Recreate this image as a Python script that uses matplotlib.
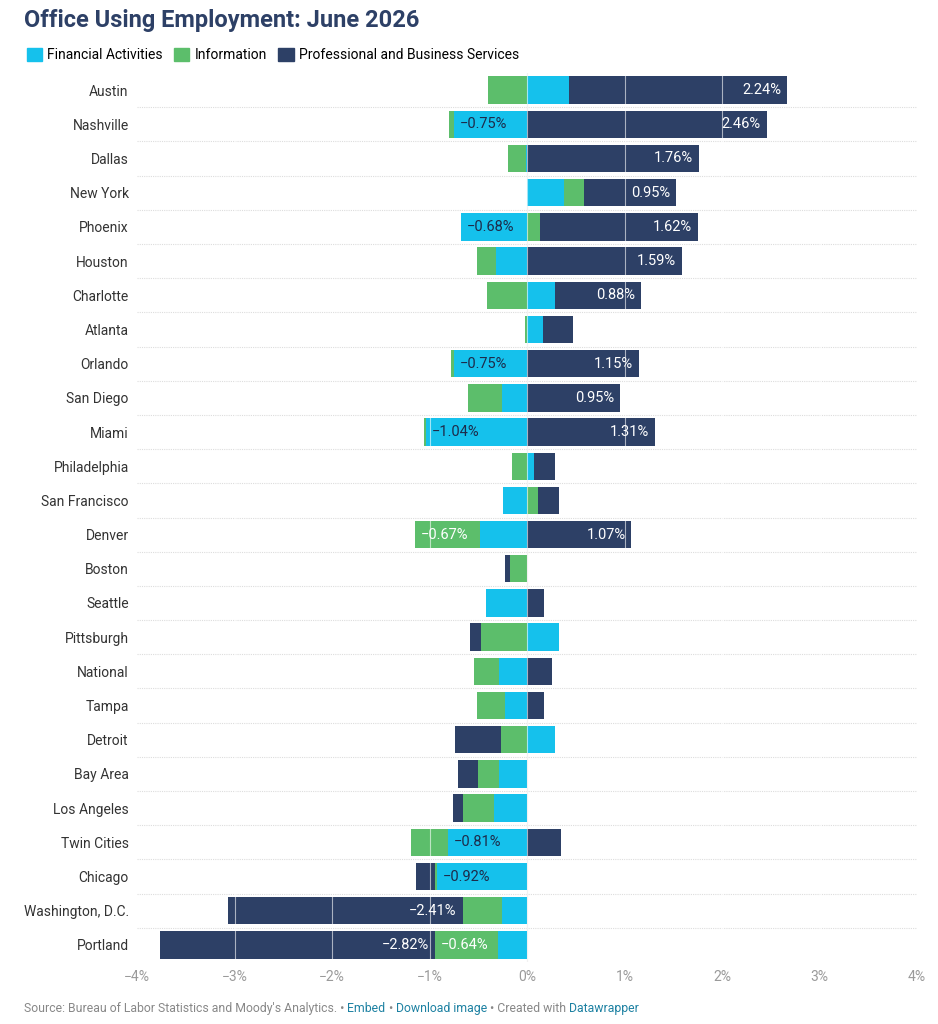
import matplotlib.pyplot as plt
import numpy as np

plt.rcParams['font.family'] = ['Roboto', 'DejaVu Sans']

cities = ["Austin","Nashville","Dallas","New York","Phoenix","Houston","Charlotte","Atlanta",
          "Orlando","San Diego","Miami","Philadelphia","San Francisco","Denver","Boston","Seattle",
          "Pittsburgh","National","Tampa","Detroit","Bay Area","Los Angeles","Twin Cities","Chicago",
          "Washington, D.C.","Portland"]
fin = [0.43,-0.75,-0.01,0.38,-0.68,-0.32,0.29,0.16,-0.75,-0.26,-1.04,0.07,-0.25,-0.48,0.0,-0.42,
       0.33,-0.29,-0.23,0.29,-0.29,-0.34,-0.81,-0.92,-0.26,-0.30]
info = [-0.40,-0.05,-0.19,0.20,0.13,-0.19,-0.41,-0.02,-0.03,-0.35,-0.02,-0.15,0.11,-0.67,-0.17,0.0,
        -0.47,-0.25,-0.28,-0.27,-0.21,-0.32,-0.38,-0.02,-0.40,-0.64]
pbs = [2.24,2.46,1.76,0.95,1.62,1.59,0.88,0.31,1.15,0.95,1.31,0.22,0.22,1.07,-0.06,0.17,
       -0.11,0.26,0.17,-0.47,-0.21,-0.10,0.35,-0.20,-2.41,-2.82]
series = [("Financial Activities", fin, "#15c1ec", "#1d2b4a"),
          ("Information", info, "#5cbe6b", "white"),
          ("Professional and Business Services", pbs, "#2d4066", "white")]

fig = plt.figure(figsize=(9.38, 10.24), dpi=100)
ax = fig.add_axes([137/938, 62/1024, 780/938, (1024-62-73)/1024])
n = len(cities)
y = np.arange(n)
pos = np.zeros(n); neg = np.zeros(n)
for name, vals, col, tcol in series:
    v = np.array(vals)
    left = np.where(v >= 0, pos, neg)
    ax.barh(y, v, left=left, height=0.8, color=col, label=name, zorder=2)
    for i in range(n):
        if abs(v[i]) >= 0.6:
            s = f"{v[i]:.2f}%".replace("-", "−")
            if v[i] > 0:
                ax.text(left[i] + v[i] - 0.06, y[i], s, ha='right', va='center', color=tcol, fontsize=10.5, zorder=4)
            elif name.startswith("Prof"):
                ax.text(left[i] - 0.06, y[i], s, ha='right', va='center', color=tcol, fontsize=10.5, zorder=4)
            else:
                ax.text(left[i] + v[i] + 0.06, y[i], s, ha='left', va='center', color=tcol, fontsize=10.5, zorder=4)
    pos = np.where(v >= 0, pos + v, pos)
    neg = np.where(v < 0, neg + v, neg)

ax.set_xlim(-4, 4)
ax.set_ylim(n - 0.5, -0.5)
ax.set_xticks(np.arange(-4, 5))
ax.set_xticklabels([f"{t}%".replace("-", "−") for t in range(-4, 5)], color="#9a9a9a", fontsize=10)
for t in np.arange(-3, 4):
    ax.axvline(t, color="white", lw=0.8, alpha=0.6, zorder=3)
ax.axvline(0, color="#dddddd", lw=0.8, zorder=1)
for b in np.arange(0.5, n - 0.5, 1):
    ax.axhline(b, color="#dddddd", lw=0.8, ls=(0, (1, 1)), zorder=1)
ax.set_yticks(y)
ax.set_yticklabels(cities, fontsize=10, color="#333333")
ax.tick_params(length=0, pad=6)
for s in ax.spines.values():
    s.set_visible(False)

fig.text(24/938, 1 - 20/1024, "Office Using Employment: June 2026", fontsize=17, fontweight='bold',
         color="#2d4066", va='center')
handles = [plt.Rectangle((0, 0), 1, 1, color=c) for _, _, c, _ in series]
fig.legend(handles, [s[0] for s in series], loc='center left', bbox_to_anchor=(14/938, 1 - 55/1024),
           ncol=3, frameon=False, fontsize=10, handlelength=1.1, handleheight=1.1, columnspacing=0.8,
           handletextpad=0.4)

parts = [("Source: Bureau of Labor Statistics and Moody's Analytics. • ", "#888888"),
         ("Embed", "#1d81a2"), (" • ", "#888888"), ("Download image", "#1d81a2"),
         (" • Created with ", "#888888"), ("Datawrapper", "#1d81a2")]
fig.canvas.draw()
r = fig.canvas.get_renderer()
x = 24
for txt, c in parts:
    t = fig.text(x/938, 1 - 1012/1024, txt, fontsize=8.8, color=c, va='baseline')
    x += t.get_window_extent(r).width
fig.savefig("out.png", dpi=100)
